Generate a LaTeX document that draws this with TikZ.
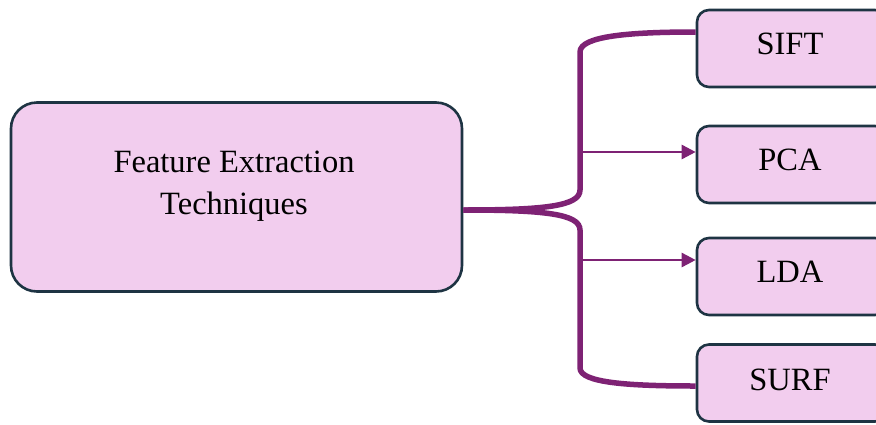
\documentclass[tikz,border=0pt]{standalone}
\usepackage{fontspec}
\setmainfont{Liberation Serif}
\usetikzlibrary{arrows.meta}
\definecolor{boxfill}{HTML}{F2CDEE}
\definecolor{boxline}{HTML}{1E3443}
\definecolor{conn}{HTML}{7E2274}
\begin{document}
\begin{tikzpicture}[x=1pt,y=-1pt,
  box/.style={draw=boxline,fill=boxfill,line width=2.6pt,rounded corners=12pt,minimum width=190pt,minimum height=77pt,inner sep=0pt},
  mainbox/.style={draw=boxline,fill=boxfill,line width=2.6pt,rounded corners=26pt,minimum width=451pt,minimum height=189pt,inner sep=0pt},
  txt/.style={font=\fontsize{32.5}{42}\selectfont,align=center,text=black},
  thick conn/.style={draw=conn,line width=5.5pt},
  thin conn/.style={draw=conn,line width=2.6pt,-{Triangle[length=14pt,width=14pt]}}]
\useasboundingbox (0,0) rectangle (876,424);
\clip (0,0) rectangle (876,424);
\node[mainbox] (main) at (236.5,197) {};
\node[txt] (mainlabel) at (234,186) {Feature Extraction\\Techniques};
\node[box] (sift) at (792,48.5) {};
\node[box] (pca) at (792,164.5) {};
\node[box] (lda) at (792,276.5) {};
\node[box] (surf) at (792,383) {};
\node[txt] at (790,44) {SIFT};
\node[txt] at (790,160) {PCA};
\node[txt] at (790,272) {LDA};
\node[txt] at (790,380) {SURF};
\coordinate (tp) at (580,152);
\coordinate (tl) at (580,260);
\draw[thick conn] (main.east |- 0,210) .. controls (545,210) and (580,206) .. (580,190) -- (580,52) .. controls (580,36) and (630,32) .. (sift.west |- 0,32);
\draw[thick conn] (main.east |- 0,210) .. controls (545,210) and (580,214) .. (580,230) -- (580,368) .. controls (580,383) and (630,386) .. (surf.west |- 0,386);
\draw[thin conn] (tp) -- (pca.west |- tp);
\draw[thin conn] (tl) -- (lda.west |- tl);
\end{tikzpicture}
\end{document}
